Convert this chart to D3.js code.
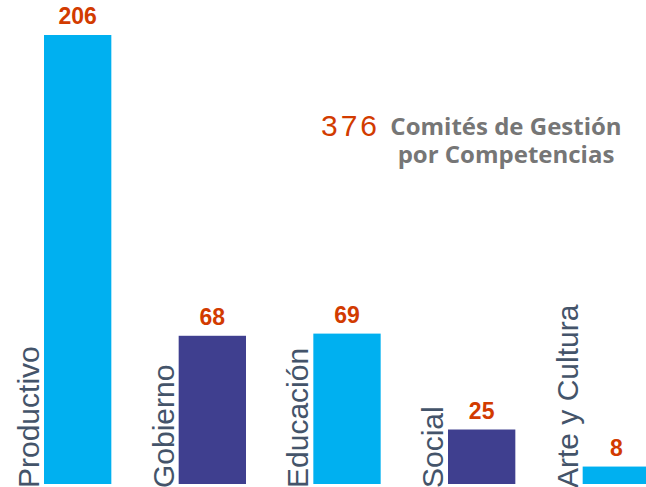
<!DOCTYPE html>
<html>
<head>
<meta charset="utf-8">
<script src="https://cdn.jsdelivr.net/npm/d3@7"></script>
<style>
	body { margin: 0; background: #fff; }
	#chart { width: 646px; height: 487px; }
</style>
</head>
<body>
<div id="chart"></div>
<script>
// Chart data
const categories = ["Productivo", "Gobierno", "Educación", "Social", "Arte y Cultura"]
const values = [206, 68, 69, 25, 8]
const barColors = ["#00B0F0", "#3F3F8F", "#00B0F0", "#3F3F8F", "#00B0F0"]
const totalLabel = "376"
const titleLines = ["Comités de Gestión", "por Competencias"]

function renderChart() {
	const width = 646
	const height = 487
	const baseline = 484

	const svg = d3
		.select("#chart")
		.append("svg")
		.attr("width", width)
		.attr("height", height)

	// Scales
	const x = d3
		.scaleBand()
		.domain(categories)
		.range([44, 650])
		.paddingInner(0.5)
		.paddingOuter(0)

	const y = d3.scaleLinear().domain([0, 206]).range([baseline, 35])

	const data = categories.map((c, i) => ({ name: c, value: values[i], color: barColors[i] }))

	// Bars
	svg.selectAll("rect.bar")
		.data(data)
		.join("rect")
		.attr("class", "bar")
		.attr("x", (d) => x(d.name))
		.attr("y", (d) => y(d.value))
		.attr("width", x.bandwidth())
		.attr("height", (d) => y(0) - y(d.value))
		.attr("fill", (d) => d.color)

	// Value labels
	svg.selectAll("text.value")
		.data(data)
		.join("text")
		.attr("class", "value")
		.attr("x", (d) => x(d.name) + x.bandwidth() / 2)
		.attr("y", (d) => y(d.value) - 11)
		.attr("text-anchor", "middle")
		.style("font-family", "Liberation Sans, Arial, sans-serif")
		.style("font-weight", "bold")
		.style("font-size", "23px")
		.style("fill", "#D23B00")
		.text((d) => d.value)

	// Category labels, rotated, left of each bar
	svg.selectAll("text.cat")
		.data(data)
		.join("text")
		.attr("class", "cat")
		.attr("transform", (d) => `translate(${x(d.name) - 5},488) rotate(-90)`)
		.style("font-family", "Liberation Sans, Arial, sans-serif")
		.style("font-size", "30px")
		.style("fill", "#44546A")
		.text((d) => d.name)

	// Annotation
	const note = svg.append("g")

	note.append("text")
		.attr("x", 321)
		.attr("y", 136)
		.style("font-family", "Liberation Sans, Arial, sans-serif")
		.style("font-size", "30px")
		.style("letter-spacing", "3px")
		.style("fill", "#D23B00")
		.text(totalLabel)

	note.selectAll("text.title")
		.data(titleLines)
		.join("text")
		.attr("class", "title")
		.attr("x", 506)
		.attr("y", (d, i) => 135 + i * 28)
		.attr("text-anchor", "middle")
		.style("font-family", "Open Sans, sans-serif")
		.style("font-weight", "bold")
		.style("font-size", "24px")
		.style("fill", "#767676")
		.text((d) => d)
}

renderChart()
</script>
</body>
</html>
